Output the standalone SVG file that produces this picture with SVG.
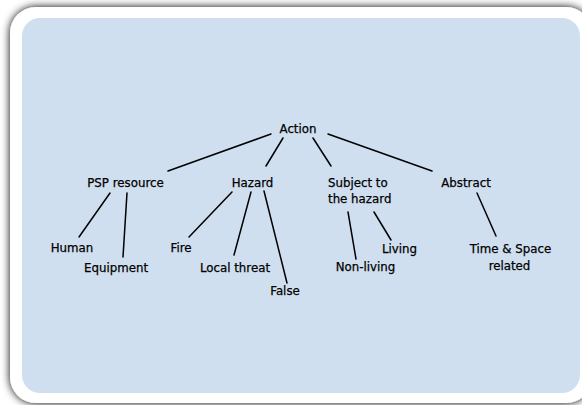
<svg xmlns="http://www.w3.org/2000/svg" width="582" height="405" viewBox="0 0 582 405">
<style>
text{font-family:"DejaVu Sans","Verdana",sans-serif;font-size:11.8px;fill:#000;stroke:#000;stroke-width:0.25}
.m{text-anchor:middle}
#connectors line{stroke:#000;stroke-width:1.5;stroke-linecap:round}
</style>
<defs>
<filter id="sh" x="-5%" y="-5%" width="110%" height="110%">
<feGaussianBlur in="SourceAlpha" stdDeviation="4"/>
<feOffset dx="0" dy="0"/>
<feComponentTransfer><feFuncA type="linear" slope="1"/></feComponentTransfer>
<feMerge><feMergeNode/><feMergeNode in="SourceGraphic"/></feMerge>
</filter>
</defs>
<rect x="10" y="7" width="582" height="396" rx="26" fill="#fff" filter="url(#sh)"/>
<rect x="22" y="18" width="558" height="375" rx="18" fill="#d0dfef"/>
<g id="connectors">
<line x1="271" y1="134" x2="168" y2="171"/>
<line x1="283" y1="138" x2="266" y2="166"/>
<line x1="313" y1="138" x2="331" y2="166"/>
<line x1="328" y1="134" x2="432" y2="171"/>
<line x1="110" y1="193" x2="79" y2="237"/>
<line x1="127" y1="193" x2="123" y2="257"/>
<line x1="232" y1="192" x2="189" y2="237"/>
<line x1="251" y1="192" x2="234" y2="255"/>
<line x1="264" y1="191" x2="287" y2="283"/>
<line x1="348" y1="212" x2="356" y2="259"/>
<line x1="374" y1="212" x2="391" y2="240"/>
<line x1="477" y1="193" x2="496" y2="236"/>
</g>
<g id="action"><text class="m" x="298" y="133">Action</text></g>
<g id="psp"><text class="m" x="125.5" y="187">PSP resource</text></g>
<g id="hazard"><text class="m" x="252.5" y="187">Hazard</text></g>
<g id="subject"><text x="328" y="187">Subject to</text><text x="328" y="203">the hazard</text></g>
<g id="abstract"><text class="m" x="466" y="187">Abstract</text></g>
<g id="human"><text class="m" x="72" y="252">Human</text></g>
<g id="equipment"><text class="m" x="116" y="272">Equipment</text></g>
<g id="fire"><text class="m" x="181" y="252">Fire</text></g>
<g id="local"><text class="m" x="235" y="272">Local threat</text></g>
<g id="false"><text class="m" x="285" y="295">False</text></g>
<g id="living"><text class="m" x="399.5" y="253">Living</text></g>
<g id="nonliving"><text class="m" x="365.5" y="271">Non-living</text></g>
<g id="time"><text class="m" x="510.5" y="253">Time &amp; Space</text><text class="m" x="509.5" y="270">related</text></g>
</svg>
